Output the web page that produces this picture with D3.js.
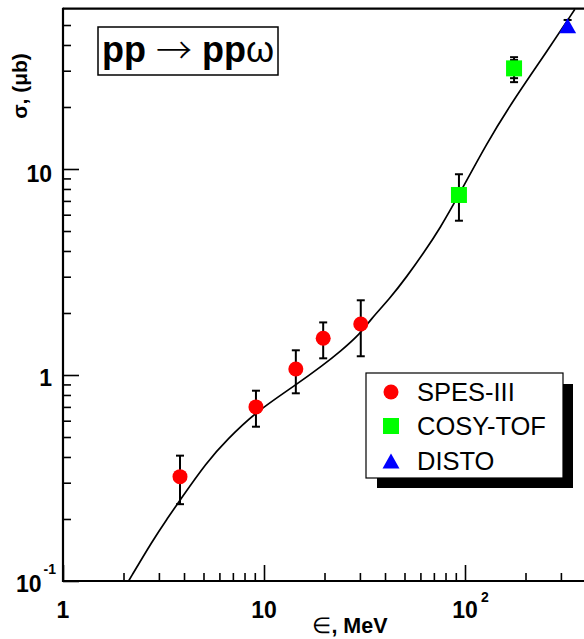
<!DOCTYPE html>
<html>
<head>
<meta charset="utf-8">
<title>pp -> pp omega</title>
<script src="https://d3js.org/d3.v7.min.js"></script>
<style>
body { margin: 0; background: #fff; }
svg { display: block; }
text { font-family: "Liberation Sans", Arial, Helvetica, sans-serif; fill: #000; }
</style>
</head>
<body>
<script>
// SPES-III
const spesE = [3.82, 9.12, 14.4, 19.7, 30.3];
const spesSigma = [0.321, 0.700, 1.069, 1.507, 1.769];
const spesLo = [0.236, 0.561, 0.815, 1.205, 1.233];
const spesHi = [0.406, 0.839, 1.318, 1.80, 2.305];

// COSY-TOF (outer = total, inner = stat)
const cosyE = [93.3, 175.4];
const cosySigma = [7.48, 30.8];
const cosyLo = [5.61, 26.4];
const cosyHi = [9.43, 34.9];
const cosyStatLo = [null, 27.6];
const cosyStatHi = [null, 33.8];

// DISTO
const distoE = [324];
const distoSigma = [49.6];
const distoLo = [46.5];
const distoHi = [52.9];

// model curve
const curveE = [2.12, 2.80, 3.28, 3.82, 5.19, 6.53, 9.12, 14.4, 19.7, 23.9, 30.3, 33.7, 42.4, 51.3, 62.1, 75.1, 93.3, 128, 174, 255, 352];
const curveSigma = [0.1, 0.158, 0.199, 0.247, 0.378, 0.484, 0.663, 0.894, 1.118, 1.297, 1.594, 1.849, 2.36, 3.00, 3.90, 5.15, 7.48, 13.3, 21.6, 37.1, 59.6];

const xMajor = [1, 10, 100];
const xMinor = [2, 3, 4, 5, 6, 7, 8, 9, 20, 30, 40, 50, 60, 70, 80, 90, 200, 300];
const yMajor = [0.1, 1, 10];
const yMinor = [0.2, 0.3, 0.4, 0.5, 0.6, 0.7, 0.8, 0.9, 2, 3, 4, 5, 6, 7, 8, 9, 20, 30, 40, 50];

const legendNames = ["SPES-III", "COSY-TOF", "DISTO"];
const legendColors = ["#ff0000", "#00ff00", "#0000ff"];

const width = 584, height = 639;
const left = 63, bottom = 581;
const decX = 201, decY = 206;

const x = d3.scaleLog().domain([1, 400]).range([left, left + decX * Math.log10(400)]);
const y = d3.scaleLog().domain([0.1, 60]).range([bottom, bottom - decY * Math.log10(600)]);

const svg = d3.select("body").append("svg")
    .attr("width", width)
    .attr("height", height);

svg.append("clipPath").attr("id", "plot")
  .append("rect")
    .attr("x", x(1)).attr("y", y(60))
    .attr("width", x(400) - x(1)).attr("height", y(0.1) - y(60));

// ticks (pointing inwards)
const xAx = svg.append("g").attr("transform", `translate(0,${bottom})`);
xAx.append("g").call(d3.axisTop(x).tickValues(xMajor).tickSize(16).tickFormat(""));
xAx.append("g").call(d3.axisTop(x).tickValues(xMinor).tickSize(8).tickFormat(""));
const yAx = svg.append("g").attr("transform", `translate(${left},0)`);
yAx.append("g").call(d3.axisRight(y).tickValues(yMajor).tickSize(16).tickFormat(""));
yAx.append("g").call(d3.axisRight(y).tickValues(yMinor).tickSize(8).tickFormat(""));
svg.selectAll(".domain").remove();
svg.selectAll(".tick line").attr("stroke", "#000").attr("stroke-width", 1.6);

// frame
svg.append("line").attr("x1", left).attr("x2", width).attr("y1", bottom).attr("y2", bottom)
    .attr("stroke", "#000").attr("stroke-width", 2.2);
svg.append("line").attr("x1", left).attr("x2", width).attr("y1", y(60)).attr("y2", y(60))
    .attr("stroke", "#000").attr("stroke-width", 2.2);
svg.append("line").attr("x1", left).attr("x2", left).attr("y1", y(60) - 1).attr("y2", bottom + 1)
    .attr("stroke", "#000").attr("stroke-width", 2.2);

// tick labels
const tickFont = 23;
svg.append("text").attr("x", x(1)).attr("y", 618).attr("text-anchor", "middle")
    .attr("font-size", tickFont).attr("font-weight", "bold").text("1");
svg.append("text").attr("x", x(10)).attr("y", 618).attr("text-anchor", "middle")
    .attr("font-size", tickFont).attr("font-weight", "bold").text("10");
svg.append("text").attr("x", x(100)).attr("y", 618).attr("text-anchor", "middle")
    .attr("font-size", tickFont).attr("font-weight", "bold").text("10");
svg.append("text").attr("x", x(100) + 16).attr("y", 602)
    .attr("font-size", 14).attr("font-weight", "bold").text("2");

svg.append("text").attr("x", 52).attr("y", y(10) + 12.5).attr("text-anchor", "end")
    .attr("font-size", tickFont).attr("font-weight", "bold").text("10");
svg.append("text").attr("x", 52).attr("y", y(1) + 10.5).attr("text-anchor", "end")
    .attr("font-size", tickFont).attr("font-weight", "bold").text("1");
const t01 = svg.append("text").attr("x", 56).attr("y", y(0.1) + 11).attr("text-anchor", "end")
    .attr("font-size", tickFont).attr("font-weight", "bold");
t01.append("tspan").text("10");
t01.append("tspan").attr("font-size", 14).attr("dy", -18).attr("dx", 2).text("-1");

// axis titles
const xt = svg.append("text").attr("x", 350).attr("y", 633).attr("text-anchor", "middle")
    .attr("font-size", 21.5).attr("font-weight", "bold");
xt.append("tspan").attr("font-weight", "normal").text("\u2208");
xt.append("tspan").text(", MeV");

svg.append("text")
    .attr("transform", "translate(27,86) rotate(-90)")
    .attr("text-anchor", "middle")
    .attr("font-size", 21).attr("font-weight", "bold")
    .text("\u03c3, (\u03bcb)");

// title box
svg.append("rect").attr("x", 98).attr("y", 27).attr("width", 180).attr("height", 48)
    .attr("fill", "#fff").attr("stroke", "#000").attr("stroke-width", 1.5);
const tt = svg.append("text").attr("x", 188).attr("y", 62).attr("text-anchor", "middle")
    .attr("font-size", 36).attr("font-weight", "bold");
tt.append("tspan").text("pp ");
tt.append("tspan").attr("font-weight", "300").attr("font-family", "'Noto Sans CJK SC', 'DejaVu Sans'")
    .attr("font-size", 36).attr("dy", 2).text("\u2192");
tt.append("tspan").attr("dy", -2).text(" pp");
tt.append("tspan").attr("font-weight", "normal").text("\u03c9");

// model curve
const line = d3.line()
    .x(d => x(d[0]))
    .y(d => y(d[1]))
    .curve(d3.curveBasis);
svg.append("path")
    .datum(d3.zip(curveE, curveSigma))
    .attr("clip-path", "url(#plot)")
    .attr("fill", "none").attr("stroke", "#000").attr("stroke-width", 1.7)
    .attr("d", line);

// error bars
function errBar(e, lo, hi, cap) {
  const g = svg.append("g").attr("stroke", "#000").attr("stroke-width", 2);
  g.append("line").attr("x1", x(e)).attr("x2", x(e)).attr("y1", y(lo)).attr("y2", y(hi));
  [lo, hi].forEach(v => {
    g.append("line").attr("x1", x(e) - cap).attr("x2", x(e) + cap)
      .attr("y1", y(v)).attr("y2", y(v));
  });
}
spesE.forEach((e, i) => errBar(e, spesLo[i], spesHi[i], 4));
cosyE.forEach((e, i) => {
  errBar(e, cosyLo[i], cosyHi[i], 4);
  if (cosyStatLo[i] != null) errBar(e, cosyStatLo[i], cosyStatHi[i], 4);
});
distoE.forEach((e, i) => errBar(e, distoLo[i], distoHi[i], 4));

// markers
const tri = (cx, cy) => `M${cx},${cy - 7.5}L${cx + 8.5},${cy + 7.5}L${cx - 8.5},${cy + 7.5}Z`;

svg.selectAll(".spes").data(d3.zip(spesE, spesSigma)).join("circle")
    .attr("cx", d => x(d[0])).attr("cy", d => y(d[1])).attr("r", 7.5)
    .attr("fill", legendColors[0]);
svg.selectAll(".cosy").data(d3.zip(cosyE, cosySigma)).join("rect")
    .attr("x", d => x(d[0]) - 8).attr("y", d => y(d[1]) - 8)
    .attr("width", 16).attr("height", 16)
    .attr("fill", legendColors[1]);
svg.selectAll(".disto").data(d3.zip(distoE, distoSigma)).join("path")
    .attr("d", d => tri(x(d[0]), y(d[1])))
    .attr("fill", legendColors[2]);

// legend
const lg = svg.append("g");
lg.append("rect").attr("x", 377).attr("y", 384).attr("width", 196).attr("height", 104).attr("fill", "#000");
lg.append("rect").attr("x", 366).attr("y", 373).attr("width", 197).attr("height", 105)
    .attr("fill", "#fff").attr("stroke", "#000").attr("stroke-width", 1.2);
const rowY = [392, 426, 461];
lg.append("circle").attr("cx", 391).attr("cy", rowY[0]).attr("r", 7.5).attr("fill", legendColors[0]);
lg.append("rect").attr("x", 383).attr("y", rowY[1] - 8).attr("width", 16).attr("height", 16).attr("fill", legendColors[1]);
lg.append("path").attr("d", tri(391, rowY[2])).attr("fill", legendColors[2]);
lg.selectAll(".lt").data(legendNames).join("text")
    .attr("x", 417).attr("y", (d, i) => rowY[i] + 9)
    .attr("font-size", 25.5)
    .text(d => d);
</script>
</body>
</html>
